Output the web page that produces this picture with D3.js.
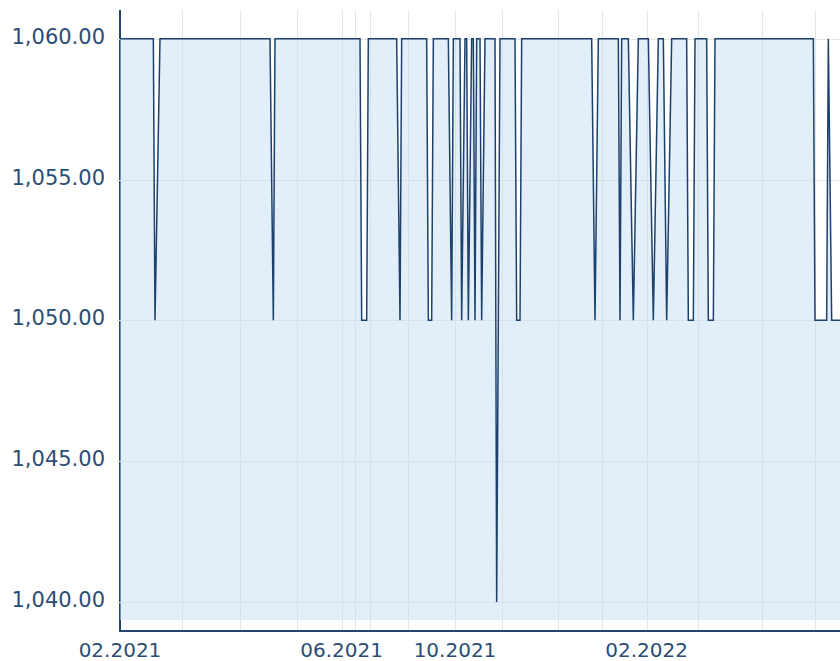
<!DOCTYPE html>
<html lang="en">
<head>
  <meta charset="UTF-8" />
  <title>Price history</title>
  <script src="https://cdn.jsdelivr.net/npm/d3@7"></script>
  <style>
    body, html { margin: 0; padding: 0; background: #fff; }
    svg { display: block; }
    .tick-label { font-family: "DejaVu Sans", Verdana, sans-serif; fill: #2b4d75; }
  </style>
</head>
<body>
  <svg id="chart" width="840" height="661"></svg>

  <script>
    // Quotes: [trade number, price]. Only turning points are listed,
    // the price stays flat between them.
    const quotes = [
      [0, 1060], [20, 1060], [21, 1050], [24, 1060],
      [90, 1060], [92, 1050], [93, 1060],
      [144, 1060], [145, 1050], [148, 1050], [149, 1060],
      [166, 1060], [168, 1050], [169, 1060],
      [184, 1060], [185, 1050], [187, 1050], [188, 1060],
      [197, 1060], [199, 1050], [200, 1060],
      [204, 1060], [205, 1050], [207, 1060],
      [208, 1060], [209, 1050], [211, 1060],
      [212, 1060], [213, 1050], [214, 1060],
      [216, 1060], [217, 1050], [219, 1060],
      [225, 1060], [226, 1040], [228, 1060],
      [237, 1060], [238, 1050], [240, 1050], [241, 1060],
      [283, 1060], [285, 1050], [287, 1060],
      [299, 1060], [300, 1050], [301, 1060],
      [305, 1060], [308, 1050], [311, 1060],
      [317, 1060], [320, 1050], [323, 1060],
      [326, 1060], [328, 1050], [331, 1060],
      [340, 1060], [341, 1050], [344, 1050], [345, 1060],
      [352, 1060], [353, 1050], [356, 1050], [357, 1060],
      [416, 1060], [417, 1050], [424, 1050], [425, 1060], [427, 1050], [432, 1050]
    ];
    const lastTrade = 432;

    // first trade of every month (vertical grid lines)
    const months = ["02.2021", "03.2021", "04.2021", "05.2021", "06.2021", "07.2021",
                    "08.2021", "09.2021", "10.2021", "11.2021", "12.2021", "01.2022",
                    "02.2022", "03.2022", "04.2022", "05.2022"];
    const monthStart = [0, 37, 72, 106, 133, 141, 150, 173, 201, 229, 263, 289, 316, 347, 385, 417];
    const labelledMonths = ["02.2021", "06.2021", "10.2021", "02.2022"];

    const yTicks = [1040, 1045, 1050, 1055, 1060];

    // layout
    const left = 120, right = 840;
    const plotTop = 10, fillBottom = 620, axisY = 631;

    const svg = d3.select("#chart");

    const x = d3.scaleLinear().domain([0, lastTrade]).range([left, right]);
    const y = d3.scaleLinear().domain([1040, 1060]).range([602, 38.7]);

    // axis lines
    svg.append("line")
      .attr("x1", left).attr("x2", left)
      .attr("y1", plotTop).attr("y2", axisY + 1)
      .attr("stroke", "#23446e").attr("stroke-width", 2);
    svg.append("line")
      .attr("x1", left - 1).attr("x2", right)
      .attr("y1", axisY).attr("y2", axisY)
      .attr("stroke", "#23446e").attr("stroke-width", 2);

    // grid
    const grid = svg.append("g").attr("stroke", "#e4e4e4").attr("stroke-width", 1);
    grid.selectAll("line.v").data(monthStart.slice(1)).join("line")
      .attr("class", "v")
      .attr("x1", d => Math.round(x(d)) + 0.5).attr("x2", d => Math.round(x(d)) + 0.5)
      .attr("y1", plotTop).attr("y2", axisY - 1);
    grid.selectAll("line.h").data(yTicks).join("line")
      .attr("class", "h")
      .attr("x1", left - 3).attr("x2", right)
      .attr("y1", d => Math.round(y(d)) + 0.5).attr("y2", d => Math.round(y(d)) + 0.5);

    // filled area under the price line
    const area = d3.area()
      .x(d => x(d[0]))
      .y0(fillBottom)
      .y1(d => y(d[1]));
    svg.append("path")
      .datum(quotes)
      .attr("d", area)
      .attr("fill", "#c6def2")
      .attr("fill-opacity", 0.5);

    const line = d3.line()
      .x(d => x(d[0]))
      .y(d => y(d[1]));
    svg.append("path")
      .datum(quotes)
      .attr("d", line)
      .attr("fill", "none")
      .attr("stroke", "#1c416d")
      .attr("stroke-width", 1.5)
      .attr("stroke-linejoin", "miter");

    // y labels
    const fmt = d3.format(",.2f");
    svg.selectAll("text.ylab").data(yTicks).join("text")
      .attr("class", "tick-label ylab")
      .attr("x", left - 15)
      .attr("y", d => y(d) + 5)
      .attr("text-anchor", "end")
      .style("font-size", "21px")
      .text(d => fmt(d));

    // x labels, every fourth month
    const xLabels = months
      .map((m, i) => ({ m, idx: monthStart[i] }))
      .filter(d => labelledMonths.includes(d.m));
    svg.selectAll("text.xlab").data(xLabels).join("text")
      .attr("class", "tick-label xlab")
      .attr("x", d => x(d.idx))
      .attr("y", 657)
      .attr("text-anchor", "middle")
      .style("font-size", "20px")
      .text(d => d.m);
  </script>
</body>
</html>
